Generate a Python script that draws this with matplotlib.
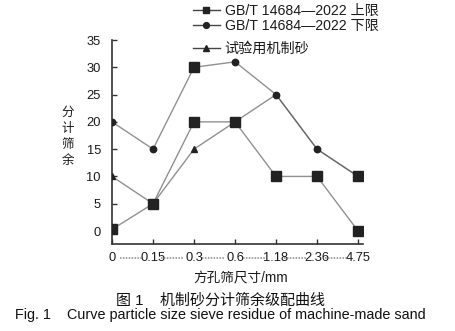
import matplotlib
matplotlib.use("Agg")
import matplotlib.pyplot as plt
from matplotlib.lines import Line2D
import matplotlib.transforms as mtransforms

plt.rcParams['font.family'] = ['Liberation Sans', 'Noto Sans CJK SC', 'DejaVu Sans']

# ---- data ----
sieve_labels = ['0', '0.15', '0.3', '0.6', '1.18', '2.36', '4.75']
limit_a = [20, 15, 30, 31, 25, 15, 10]      # upper curve
limit_b = [0.3, 5, 20, 20, 10, 10, 0]       # lower curve
test_sand = [10, 5, 15, 20, 25, 15, 10]     # 试验用机制砂
legend_labels = ['GB/T 14684—2022 上限', 'GB/T 14684—2022 下限', '试验用机制砂']
y_ticks = [0, 5, 10, 15, 20, 25, 30, 35]

x = list(range(len(sieve_labels)))

fig = plt.figure(figsize=(4.55, 3.31), dpi=100)
ax = fig.add_axes([112/455, (331-244)/331, (363-112)/455, (244-40)/331])

line_kw = dict(color='#555555', alpha=0.65, lw=1.0, zorder=2)
ax.plot(x, limit_a, **line_kw)
ax.plot(x, limit_b, **line_kw)
ax.plot(x, test_sand, **line_kw)

mc = '#222222'
# markers as they appear in the figure
ax.plot(x, limit_b, ls='none', marker='s', ms=6.8, color=mc, zorder=3)
ax.plot(x, limit_a, ls='none', marker='o', ms=4.6, color=mc, markevery=[0, 1, 3, 4, 5], zorder=3)
ax.plot(x, limit_a, ls='none', marker='s', ms=6.8, color=mc, markevery=[2, 6], zorder=3)
ax.plot(x, test_sand, ls='none', marker='^', ms=4.8, color=mc, markevery=[0, 2], zorder=3)

ax.set_xlim(0, 6.12)
ax.set_ylim(-2.38, 35)
ax.set_xticks(x)
ax.set_xticklabels(sieve_labels, fontsize=9.3, color='#1a1a1a')
ax.set_yticks(y_ticks)
ax.set_yticklabels([str(v) for v in y_ticks], fontsize=9.3, color='#1a1a1a')
ax.tick_params(axis='both', direction='in', length=3.5, width=1.0, color='#333333')
ax.tick_params(axis='y', pad=8)
ax.tick_params(axis='x', pad=6)
for s in ['top', 'right']:
    ax.spines[s].set_visible(False)
for s in ['left', 'bottom']:
    ax.spines[s].set_color('#333333')
    ax.spines[s].set_linewidth(1.2)

# dotted leaders between x tick labels
trans = mtransforms.blended_transform_factory(ax.transData, fig.transFigure)
ylead = (331 - 258) / 331
for i in range(len(x) - 1):
    ax.plot([x[i] + 0.2, x[i + 1] - 0.25], [ylead, ylead], transform=trans,
            ls=(0, (1, 0.9)), color='#888888', lw=1.1, clip_on=False)

# axis labels
fig.text(193/455, (331-278)/331, '方孔筛尺寸/mm', fontsize=9.8, ha='left', va='center',
         color='#1a1a1a')
fig.text(68/455, (331-137)/331, '分\n计\n筛\n余', fontsize=9, ha='center', va='center',
         linespacing=1.45, color='#1a1a1a')

# legend
h1 = [Line2D([], [], color='#444444', lw=1.0, marker='s', ms=4.5, markerfacecolor=mc, markeredgecolor=mc),
      Line2D([], [], color='#444444', lw=1.0, marker='o', ms=4.2, markerfacecolor=mc, markeredgecolor=mc)]
h2 = [Line2D([], [], color='#444444', lw=1.0, marker='^', ms=5, markerfacecolor=mc, markeredgecolor=mc)]
leg1 = fig.legend(h1, legend_labels[:2], loc='upper left', bbox_to_anchor=(183/455, 1.0 + 6/331),
                  frameon=False, fontsize=10.2, handlelength=1.9, handletextpad=0.35,
                  labelspacing=0.08, borderpad=0.2, labelcolor='#1a1a1a')
leg2 = fig.legend(h2, legend_labels[2:], loc='upper left', bbox_to_anchor=(183/455, (331-32)/331),
                  frameon=False, fontsize=10.2, handlelength=1.9, handletextpad=0.35,
                  borderpad=0.2, labelcolor='#1a1a1a')

# captions
fig.text(221/455, (331-300)/331, '图 1    机制砂分计筛余级配曲线', fontsize=10.8,
         ha='center', va='center', color='#111111')
fig.text(220/455, (331-315)/331, 'Fig. 1    Curve particle size sieve residue of machine-made sand',
         fontsize=10.4, ha='center', va='center', color='#111111')

fig.savefig('out.png', dpi=100)
